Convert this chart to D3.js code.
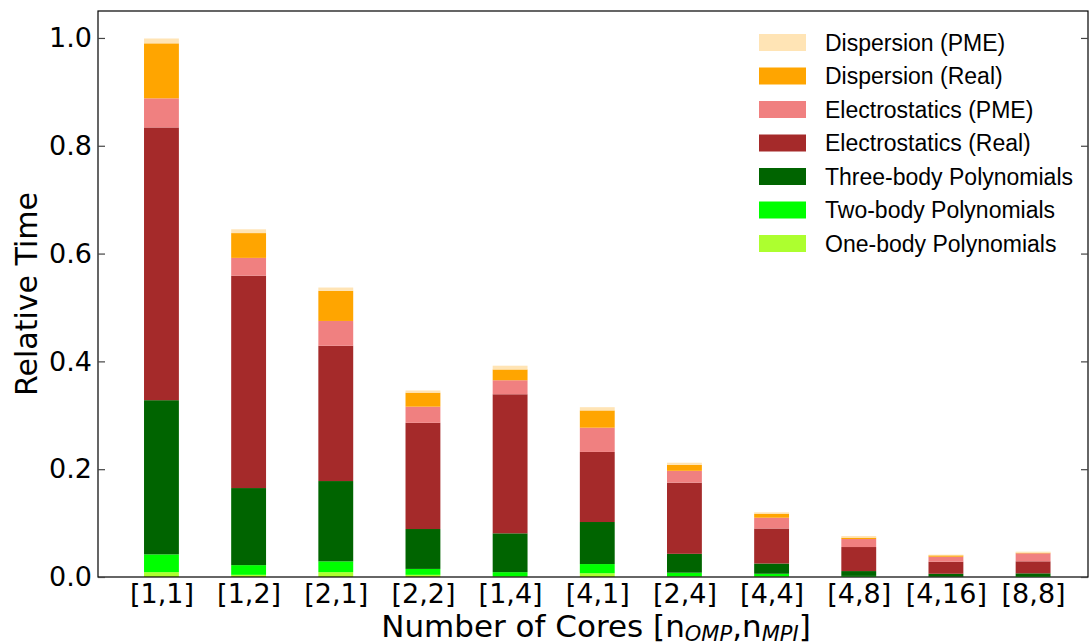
<!DOCTYPE html>
<html>
<head>
<meta charset="utf-8">
<script src="https://cdn.jsdelivr.net/npm/d3@7"></script>
<style>
  body { margin: 0; background: #fff; }
  svg { display: block; }
</style>
</head>
<body>
<div id="chart"></div>
<script>
// Core layouts [n_OMP, n_MPI]
const categories = ["[1,1]", "[1,2]", "[2,1]", "[2,2]", "[1,4]", "[4,1]", "[2,4]", "[4,4]", "[4,8]", "[4,16]", "[8,8]"];

// Relative time per component (bottom to top of the stack)
const oneBody   = [0.009, 0.004, 0.009, 0.004, 0.001, 0.007, 0.001, 0.001, 0.0005, 0.0003, 0.0003];
const twoBody   = [0.033, 0.018, 0.020, 0.011, 0.008, 0.017, 0.007, 0.005, 0.0015, 0.0007, 0.0015];
const threeBody = [0.286, 0.143, 0.149, 0.074, 0.072, 0.078, 0.035, 0.019, 0.009, 0.005, 0.005];
const elecReal  = [0.506, 0.394, 0.251, 0.197, 0.258, 0.130, 0.132, 0.065, 0.0446, 0.0223, 0.0223];
const elecPME   = [0.054, 0.033, 0.046, 0.030, 0.026, 0.045, 0.022, 0.020, 0.0149, 0.0093, 0.0149];
const dispReal  = [0.102, 0.046, 0.056, 0.026, 0.020, 0.032, 0.011, 0.0075, 0.0025, 0.0025, 0.001];
const dispPME   = [0.009, 0.007, 0.006, 0.004, 0.007, 0.006, 0.004, 0.0025, 0.003, 0.0013, 0.002];

const seriesNames = ["One-body Polynomials", "Two-body Polynomials", "Three-body Polynomials",
    "Electrostatics (Real)", "Electrostatics (PME)", "Dispersion (Real)", "Dispersion (PME)"];
const seriesValues = [oneBody, twoBody, threeBody, elecReal, elecPME, dispReal, dispPME];
const seriesColors = ["#adff2f", "#00ff00", "#006400", "#a52a2a", "#f08080", "#ffa500", "#ffe4b5"];
const yTicks = [0.0, 0.2, 0.4, 0.6, 0.8, 1.0];

const width = 1091, height = 644;
const margin = { top: 11, right: 3, bottom: 67, left: 98 };

const svg = d3.select("#chart").append("svg")
    .attr("width", width)
    .attr("height", height);

// build a table for d3.stack
const table = categories.map((c, i) => {
    const row = { key: c, index: i };
    seriesNames.forEach((s, j) => { row[s] = seriesValues[j][i]; });
    return row;
});
const stacked = d3.stack().keys(seriesNames)(table);

// Scales
const x = d3.scaleLinear()
    .domain([-0.728, 10.63])
    .range([margin.left, width - margin.right]);
const y = d3.scaleLinear()
    .domain([0, 1.05])
    .range([height - margin.bottom, margin.top]);
const barW = x(0.4) - x(0);

// Bars
svg.append("g").selectAll("g")
    .data(stacked)
    .enter().append("g")
    .attr("fill", (d, i) => seriesColors[i])
    .selectAll("rect")
    .data(d => d)
    .enter().append("rect")
    .attr("x", d => x(d.data.index) - barW / 2)
    .attr("y", d => y(d[1]))
    .attr("width", barW)
    .attr("height", d => y(d[0]) - y(d[1]));

// Frame
svg.append("rect")
    .attr("x", margin.left)
    .attr("y", margin.top)
    .attr("width", width - margin.right - margin.left)
    .attr("height", height - margin.bottom - margin.top)
    .attr("fill", "none")
    .attr("stroke", "#000")
    .attr("stroke-width", 1.2);

// Y axis, ticks pointing in, mirrored on the right
const yAxisL = svg.append("g")
    .attr("transform", `translate(${margin.left},0)`)
    .call(d3.axisLeft(y).tickValues(yTicks).tickFormat(d3.format(".1f")).tickSizeInner(-7).tickSizeOuter(0).tickPadding(6));
yAxisL.select(".domain").remove();
yAxisL.selectAll("line").attr("stroke", "#444").attr("stroke-width", 1.2);
yAxisL.selectAll("text")
    .attr("x", -6)
    .style("font-family", "DejaVu Sans")
    .style("font-size", "27px")
    .attr("fill", "#000");

const yAxisR = svg.append("g")
    .attr("transform", `translate(${width - margin.right},0)`)
    .call(d3.axisRight(y).tickValues(yTicks).tickFormat("").tickSizeInner(-7).tickSizeOuter(0));
yAxisR.select(".domain").remove();
yAxisR.selectAll("line").attr("stroke", "#444").attr("stroke-width", 1.2);

// X tick labels
const xAxis = svg.append("g")
    .attr("transform", `translate(0,${height - margin.bottom})`)
    .call(d3.axisBottom(x).tickValues(d3.range(categories.length)).tickFormat(i => categories[i]).tickSize(0).tickPadding(7));
xAxis.select(".domain").remove();
xAxis.selectAll("text")
    .style("font-family", "DejaVu Sans")
    .style("font-size", "27px")
    .attr("fill", "#000");

// Axis titles
svg.append("text")
    .attr("transform", `translate(37,${(margin.top + height - margin.bottom) / 2}) rotate(-90)`)
    .attr("text-anchor", "middle")
    .style("font-family", "DejaVu Sans")
    .style("font-size", "30px")
    .text("Relative Time");

const xt = svg.append("text")
    .attr("x", 596)
    .attr("y", 637)
    .attr("text-anchor", "middle")
    .style("font-family", "DejaVu Sans")
    .style("font-size", "31px");
xt.append("tspan").text("Number of Cores [n");
xt.append("tspan").attr("dy", 4).style("font-size", "21px").style("font-style", "italic").text("OMP");
xt.append("tspan").attr("dy", -4).text(",n");
xt.append("tspan").attr("dy", 4).style("font-size", "21px").style("font-style", "italic").text("MPI");
xt.append("tspan").attr("dy", -4).text("]");

// Legend (top of stack first)
const legend = svg.append("g").attr("transform", "translate(759,34)");
const legendItems = seriesNames.map((s, i) => ({ name: s, color: seriesColors[i] })).reverse();
const row = legend.selectAll("g")
    .data(legendItems)
    .enter().append("g")
    .attr("transform", (d, i) => `translate(0,${i * 33.5})`);
row.append("rect")
    .attr("width", 47)
    .attr("height", 17)
    .attr("fill", d => d.color);
row.append("text")
    .attr("x", 66)
    .attr("y", 8.5)
    .attr("dy", "0.35em")
    .style("font-family", "Liberation Sans")
    .style("font-size", "23px")
    .text(d => d.name);
</script>
</body>
</html>
